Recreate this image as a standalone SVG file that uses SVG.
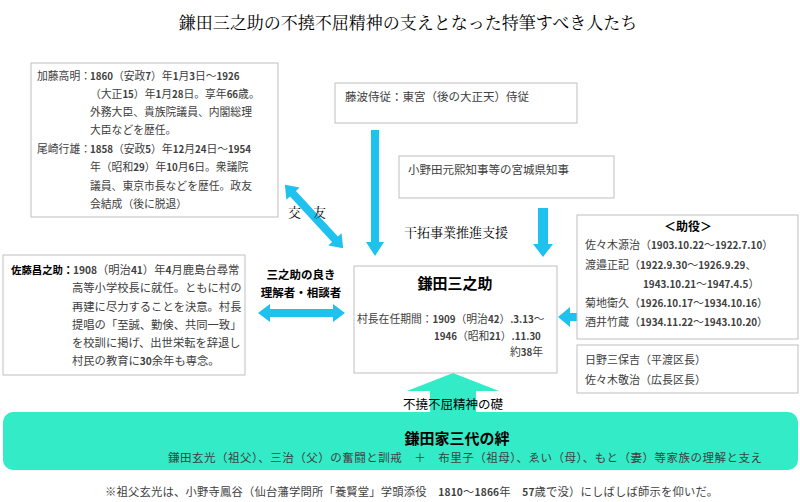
<svg xmlns="http://www.w3.org/2000/svg" width="800" height="502" viewBox="0 0 800 502">
<style>
.box{fill:#fff;stroke:#bfbfbf;stroke-width:1}
.t{font-family:"Noto Sans CJK JP","Noto Sans CJK SC",sans-serif;fill:#404040}
.b{font-weight:bold}
.d{font-weight:bold;font-size:0.9em}
.k{fill:#000}
.m{font-family:"Noto Serif CJK JP","Noto Sans CJK JP",serif;fill:#000}
.arr{fill:#1fc1ee}
.teal{fill:#33ebc7}
</style>
<rect width="800" height="502" fill="#fff"/>
<text class="m" x="408" y="29" font-size="17" text-anchor="middle">鎌田三之助の不撓不屈精神の支えとなった特筆すべき人たち</text>

<g id="connectors">
  <polygon class="arr" points="371,130 379,130 379,242 384,242 375,256 366,242 371,242"/>
  <polygon class="arr" points="538,208 548,208 548,244 553,244 543,257 533,244 538,244"/>
  <polygon class="arr" points="558,317 570,307 570,313 577,313 577,321 570,321 570,327"/>
  <polygon class="arr" transform="translate(301.5,313)" points="-43.5,0 -31.5,-9 -31.5,-4 31.5,-4 31.5,-9 43.5,0 31.5,9 31.5,4 -31.5,4 -31.5,9"/>
  <polygon class="arr" transform="translate(314,216.5) rotate(47.4)" points="-43,0 -31,-9 -31,-4 31,-4 31,-9 43,0 31,9 31,4 -31,4 -31,9"/>
  <polygon class="teal" points="453,373 499,391 476,391 476,414 430,414 430,391 407,391"/>
  <text class="m" x="288" y="217" font-size="13">交</text>
  <text class="m" x="313" y="217" font-size="13">友</text>
  <text class="m" x="456" y="237" font-size="13" text-anchor="middle">干拓事業推進支援</text>
  <text class="t k b" x="301" y="279" font-size="11.5" text-anchor="middle">三之助の良き</text>
  <text class="t k b" x="301" y="297" font-size="11.5" text-anchor="middle">理解者・相談者</text>
  <text class="t k" x="453" y="409" font-size="12.5" text-anchor="middle">不撓不屈精神の礎</text>
</g>

<g id="kato-ozaki">
  <rect class="box" x="31" y="63" width="247" height="154"/>
  <g class="t" font-size="10.8">
    <text x="37" y="80">加藤高明：</text>
    <text x="90" y="80"><tspan class="d">1860</tspan>（安政<tspan class="d">7</tspan>）年<tspan class="d">1</tspan>月<tspan class="d">3</tspan>日～<tspan class="d">1926</tspan></text>
    <text x="90" y="98">（大正<tspan class="d">15</tspan>）年<tspan class="d">1</tspan>月<tspan class="d">28</tspan>日。享年<tspan class="d">66</tspan>歳。</text>
    <text x="90" y="116">外務大臣、貴族院議員、内閣総理</text>
    <text x="90" y="134">大臣などを歴任。</text>
    <text x="37" y="153">尾崎行雄：</text>
    <text x="90" y="153"><tspan class="d">1858</tspan>（安政<tspan class="d">5</tspan>）年<tspan class="d">12</tspan>月<tspan class="d">24</tspan>日～<tspan class="d">1954</tspan></text>
    <text x="90" y="171">年（昭和<tspan class="d">29</tspan>）年<tspan class="d">10</tspan>月<tspan class="d">6</tspan>日。衆議院</text>
    <text x="90" y="190">議員、東京市長などを歴任。政友</text>
    <text x="90" y="208">会結成（後に脱退）</text>
  </g>
</g>

<g id="fujinami">
  <rect class="box" x="335" y="83" width="242" height="40"/>
  <text class="t" x="345" y="101" font-size="11.5">藤波侍従：東宮（後の大正天）侍従</text>
</g>

<g id="onoda">
  <rect class="box" x="399" y="156" width="215" height="42"/>
  <text class="t" x="408" y="174" font-size="11.5">小野田元熙知事等の宮城県知事</text>
</g>

<g id="sato">
  <rect class="box" x="3" y="255" width="242" height="120"/>
  <g class="t" font-size="11.3">
    <text class="k b" x="11" y="274" font-size="10.4">佐藤昌之助：</text>
    <text x="73" y="274"><tspan class="d">1908</tspan>（明治<tspan class="d">41</tspan>）年<tspan class="d">4</tspan>月鹿島台尋常</text>
    <text x="72" y="292">高等小学校長に就任。ともに村の</text>
    <text x="72" y="311">再建に尽力することを決意。村長</text>
    <text x="72" y="329">提唱の「至誠、勤倹、共同一致」</text>
    <text x="72" y="347">を校訓に掲げ、出世栄転を辞退し</text>
    <text x="72" y="365">村民の教育に<tspan class="d">30</tspan>余年も専念。</text>
  </g>
</g>

<g id="sannosuke">
  <rect class="box" x="354" y="266" width="203" height="107"/>
  <text class="t k b" x="455" y="289" font-size="15" text-anchor="middle">鎌田三之助</text>
  <g class="t" font-size="10.8">
    <text x="357" y="323">村長在任期間：<tspan class="d">1909</tspan>（明治<tspan class="d">42</tspan>）<tspan class="d">.3.13</tspan>～</text>
    <text x="434" y="340"><tspan class="d">1946</tspan>（昭和<tspan class="d">21</tspan>）<tspan class="d">.11.30</tspan></text>
    <text x="543" y="356" text-anchor="end">約<tspan class="d">38</tspan>年</text>
  </g>
</g>

<g id="joyaku">
  <rect class="box" x="577" y="215" width="221" height="124"/>
  <text class="t k b" x="688" y="231" font-size="12" text-anchor="middle">＜助役＞</text>
  <g class="t" font-size="11">
    <text x="585" y="249">佐々木源治（<tspan class="d">1903.10.22</tspan>～<tspan class="d">1922.7.10</tspan>）</text>
    <text x="585" y="269">渡邉正記（<tspan class="d">1922.9.30</tspan>～<tspan class="d">1926.9.29</tspan>、</text>
    <text x="643" y="288"><tspan class="d">1943.10.21</tspan>～<tspan class="d">1947.4.5</tspan>）</text>
    <text x="585" y="307">菊地衛久（<tspan class="d">1926.10.17</tspan>～<tspan class="d">1934.10.16</tspan>）</text>
    <text x="585" y="326">酒井竹蔵（<tspan class="d">1934.11.22</tspan>～<tspan class="d">1943.10.20</tspan>）</text>
  </g>
</g>

<g id="kucho">
  <rect class="box" x="577" y="345" width="221" height="48"/>
  <g class="t" font-size="11">
    <text x="585" y="364">日野三保吉（平渡区長）</text>
    <text x="585" y="384">佐々木敬治（広長区長）</text>
  </g>
</g>

<g id="family">
  <rect class="teal" x="3" y="412" width="795" height="58" rx="10"/>
  <text class="t k b" x="457" y="444" font-size="15" text-anchor="middle">鎌田家三代の絆</text>
  <text class="t" x="168" y="462" font-size="11.5" textLength="594" lengthAdjust="spacing">鎌田玄光（祖父）、三治（父）の奮闘と訓戒　＋　布里子（祖母）、ゑい（母）、もと（妻）等家族の理解と支え</text>
</g>

<text class="t" x="105" y="496" font-size="11.3" textLength="613" lengthAdjust="spacing">※祖父玄光は、小野寺鳳谷（仙台藩学問所「養賢堂」学頭添役　<tspan class="d">1810</tspan>～<tspan class="d">1866</tspan>年　<tspan class="d">57</tspan>歳で没）にしばしば師示を仰いだ。</text>
</svg>
